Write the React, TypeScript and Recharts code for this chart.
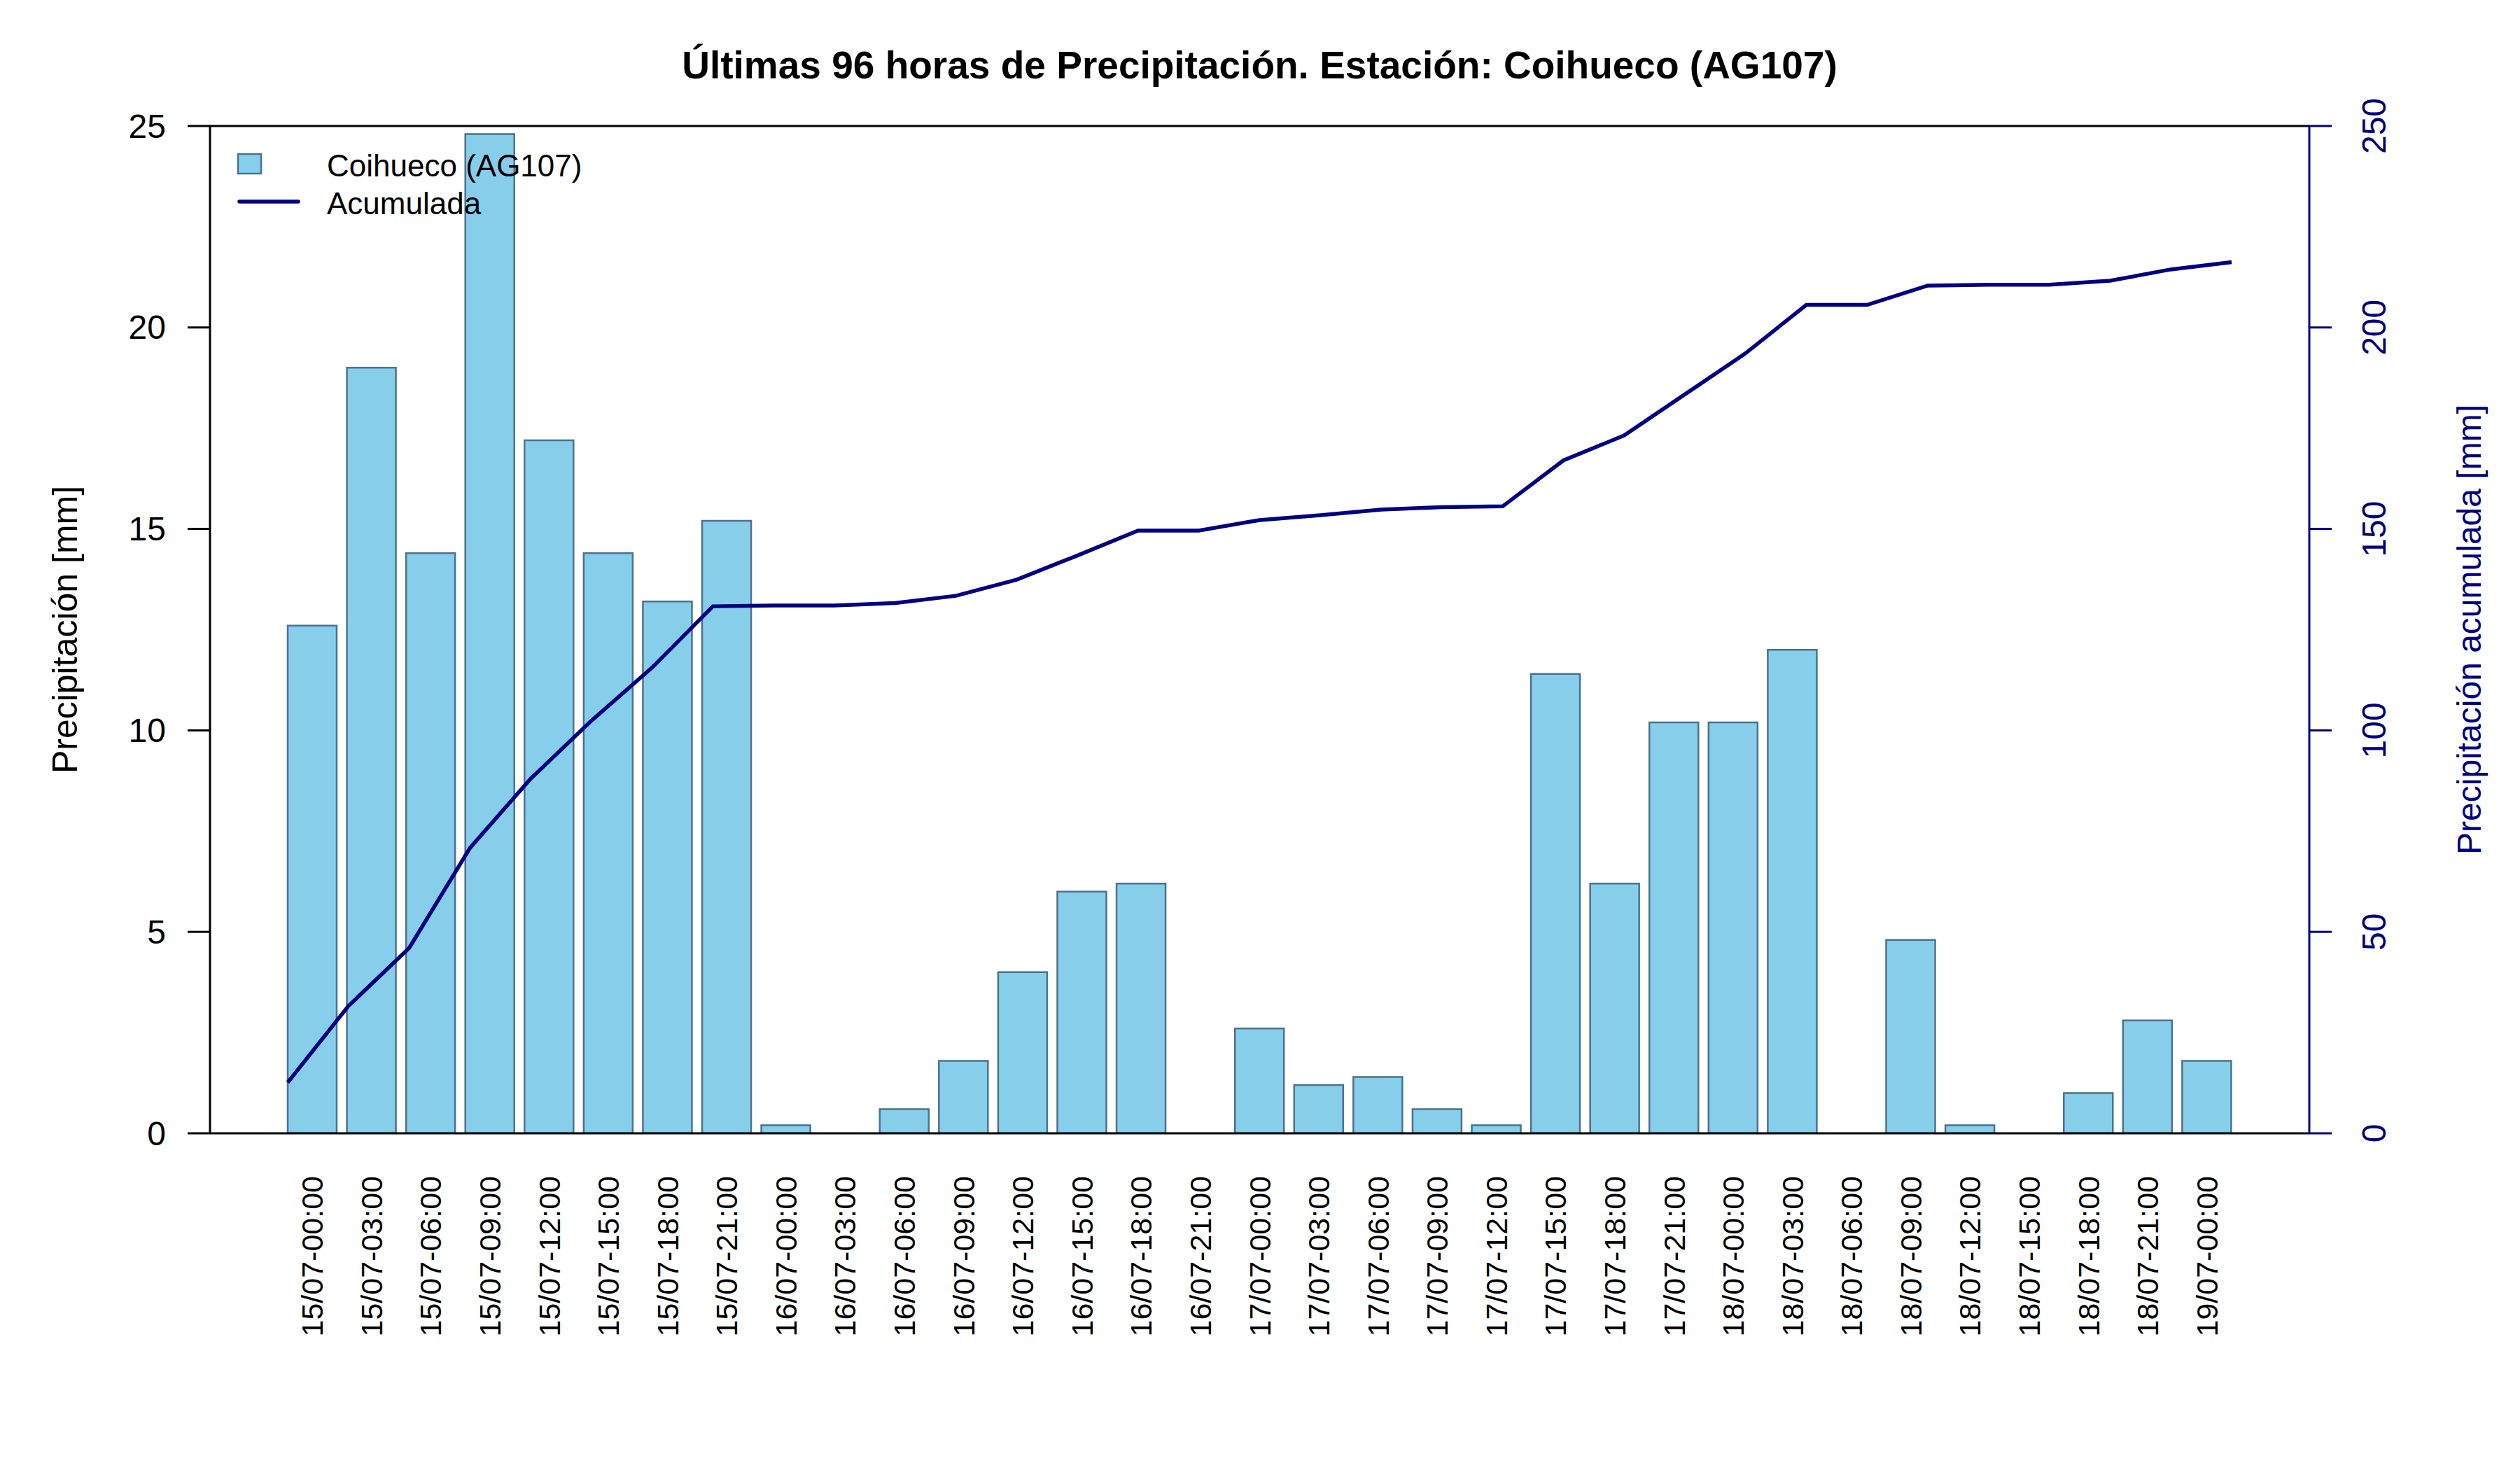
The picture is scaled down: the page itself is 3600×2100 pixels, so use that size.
import React from "react";
import {
  ComposedChart,
  Bar,
  Line,
  XAxis,
  YAxis,
  ReferenceLine,
  Legend,
} from "recharts";

// 3-hourly precipitation totals [mm]
const labels: string[] = [
  "15/07-00:00", "15/07-03:00", "15/07-06:00", "15/07-09:00", "15/07-12:00",
  "15/07-15:00", "15/07-18:00", "15/07-21:00", "16/07-00:00", "16/07-03:00",
  "16/07-06:00", "16/07-09:00", "16/07-12:00", "16/07-15:00", "16/07-18:00",
  "16/07-21:00", "17/07-00:00", "17/07-03:00", "17/07-06:00", "17/07-09:00",
  "17/07-12:00", "17/07-15:00", "17/07-18:00", "17/07-21:00", "18/07-00:00",
  "18/07-03:00", "18/07-06:00", "18/07-09:00", "18/07-12:00", "18/07-15:00",
  "18/07-18:00", "18/07-21:00", "19/07-00:00",
];

const precipitacion: number[] = [
  12.6, 19.0, 14.4, 24.8, 17.2, 14.4, 13.2, 15.2, 0.2, 0.0,
  0.6, 1.8, 4.0, 6.0, 6.2, 0.0, 2.6, 1.2, 1.4, 0.6,
  0.2, 11.4, 6.2, 10.2, 10.2, 12.0, 0.0, 4.8, 0.2, 0.0,
  1.0, 2.8, 1.8,
];

// accumulated precipitation [mm]
const acumulada: number[] = [
  12.6, 31.6, 46.0, 70.8, 88.0, 102.4, 115.6, 130.8, 131.0, 131.0,
  131.6, 133.4, 137.4, 143.4, 149.6, 149.6, 152.2, 153.4, 154.8, 155.4,
  155.6, 167.0, 173.2, 183.4, 193.6, 205.6, 205.6, 210.4, 210.6, 210.6,
  211.6, 214.4, 216.2,
];

const leftTicks: number[] = [0, 5, 10, 15, 20, 25];
const rightTicks: number[] = [0, 50, 100, 150, 200, 250];

const STATION = "Coihueco (AG107)";
const TITLE = "Últimas 96 horas de Precipitación. Estación: Coihueco (AG107)";

const W = 3600;
const H = 2100;
const PLOT_LEFT = 300;
const PLOT_RIGHT = 3299;
const PLOT_TOP = 180;
const PLOT_BOTTOM = 1619;
const Y_AXIS_W = 100;
const X_AXIS_H = 60;
const FONT = "'Liberation Sans', Arial, Helvetica, sans-serif";
const NAVY = "#000080";

const rows = labels.map((label, i) => ({
  label,
  idx: i,
  precip: precipitacion[i],
  acum: acumulada[i],
}));

const LeftTick = (props: any) => {
  const { x, y, payload } = props;
  return (
    <text x={x} y={y} textAnchor="end" dominantBaseline="central" fontSize={48} fontFamily={FONT} fill="#000">
      {payload.value}
    </text>
  );
};

const RightTick = (props: any) => {
  const { y, payload } = props;
  const cx = PLOT_RIGHT + 92;
  return (
    <g transform={`translate(${cx},${y}) rotate(-90)`}>
      <text x={0} y={0} textAnchor="middle" dominantBaseline="central" fontSize={48} fontFamily={FONT} fill={NAVY}>
        {payload.value}
      </text>
    </g>
  );
};

const BottomTick = (props: any) => {
  const { x, payload } = props;
  return (
    <g transform={`translate(${x},${PLOT_BOTTOM + 61}) rotate(-90)`}>
      <text x={0} y={0} textAnchor="end" dominantBaseline="central" fontSize={43} fontFamily={FONT} fill="#000">
        {payload.value}
      </text>
    </g>
  );
};

const LegendBox = (props: any) => {
  const payload: any[] = props.payload || [];
  const bar = payload.find((p) => p.type !== "line");
  const line = payload.find((p) => p.type === "line");
  return (
    <svg width={620} height={130} style={{ overflow: "visible" }}>
      <rect x={10} y={20} width={33} height={28} fill="#87CEEB" stroke="#4a7291" strokeWidth={2.5} />
      <text x={137} y={36} dominantBaseline="central" fontSize={44} fontFamily={FONT} fill="#000">
        {bar ? bar.value : STATION}
      </text>
      <line x1={12} y1={88} x2={96} y2={88} stroke={NAVY} strokeWidth={5.5} strokeLinecap="round" />
      <text x={137} y={90} dominantBaseline="central" fontSize={44} fontFamily={FONT} fill="#000">
        {line ? line.value : "Acumulada"}
      </text>
    </svg>
  );
};

export default function App() {
  return (
    <div style={{ position: "absolute", left: 0, top: 0, width: W, height: H, background: "#fff" }}>
      <ComposedChart
        width={W}
        height={H}
        data={rows}
        margin={{
          top: PLOT_TOP,
          bottom: H - PLOT_BOTTOM - X_AXIS_H,
          left: PLOT_LEFT - Y_AXIS_W,
          right: W - PLOT_RIGHT - Y_AXIS_W,
        }}
      >
        <XAxis
          xAxisId="bar"
          dataKey="label"
          type="category"
          interval={0}
          height={X_AXIS_H}
          padding={{ left: 104, right: 104 }}
          tickLine={false}
          axisLine={{ stroke: "#000", strokeWidth: 3 }}
          tick={<BottomTick />}
        />
        <XAxis
          xAxisId="line"
          dataKey="idx"
          type="number"
          domain={[0, 32]}
          padding={{ left: 111, right: 111 }}
          hide
        />
        <YAxis
          yAxisId="left"
          domain={[0, 25]}
          ticks={leftTicks}
          width={Y_AXIS_W}
          tickSize={32}
          tickMargin={31}
          interval={0}
          allowDataOverflow
          axisLine={{ stroke: "#000", strokeWidth: 3 }}
          tickLine={{ stroke: "#000", strokeWidth: 3 }}
          tick={<LeftTick />}
        />
        <YAxis
          yAxisId="right"
          orientation="right"
          domain={[0, 250]}
          ticks={rightTicks}
          width={Y_AXIS_W}
          tickSize={32}
          interval={0}
          allowDataOverflow
          axisLine={{ stroke: NAVY, strokeWidth: 3 }}
          tickLine={{ stroke: NAVY, strokeWidth: 3 }}
          tick={<RightTick />}
        />
        <ReferenceLine yAxisId="left" xAxisId="bar" y={25} stroke="#000" strokeWidth={3} />
        <Bar
          xAxisId="bar"
          yAxisId="left"
          dataKey="precip"
          name={STATION}
          barSize={70}
          fill="#87CEEB"
          stroke="#4a7291"
          strokeWidth={2.5}
          isAnimationActive={false}
        />
        <Line
          xAxisId="line"
          yAxisId="right"
          dataKey="acum"
          name="Acumulada"
          type="linear"
          stroke={NAVY}
          strokeWidth={5.5}
          dot={false}
          activeDot={false}
          isAnimationActive={false}
        />
        <Legend
          layout="vertical"
          align="center"
          verticalAlign="middle"
          content={<LegendBox />}
          wrapperStyle={{ position: "absolute", left: 330, top: 200, width: 620, height: 130 }}
        />
      </ComposedChart>
      <svg
        width={W}
        height={H}
        style={{ position: "absolute", left: 0, top: 0, pointerEvents: "none" }}
      >
        <text x={(PLOT_LEFT + PLOT_RIGHT) / 2} y={112} textAnchor="middle" fontSize={55} fontWeight="bold" fontFamily={FONT} fill="#000">
          {TITLE}
        </text>
        <g transform={`translate(93,${(PLOT_TOP + PLOT_BOTTOM) / 2}) rotate(-90)`}>
          <text x={0} y={0} textAnchor="middle" dominantBaseline="central" fontSize={50} fontFamily={FONT} fill="#000">
            Precipitación [mm]
          </text>
        </g>
        <g transform={`translate(3527,${(PLOT_TOP + PLOT_BOTTOM) / 2}) rotate(-90)`}>
          <text x={0} y={0} textAnchor="middle" dominantBaseline="central" fontSize={48} fontFamily={FONT} fill={NAVY}>
            Precipitación acumulada [mm]
          </text>
        </g>
      </svg>
    </div>
  );
}
